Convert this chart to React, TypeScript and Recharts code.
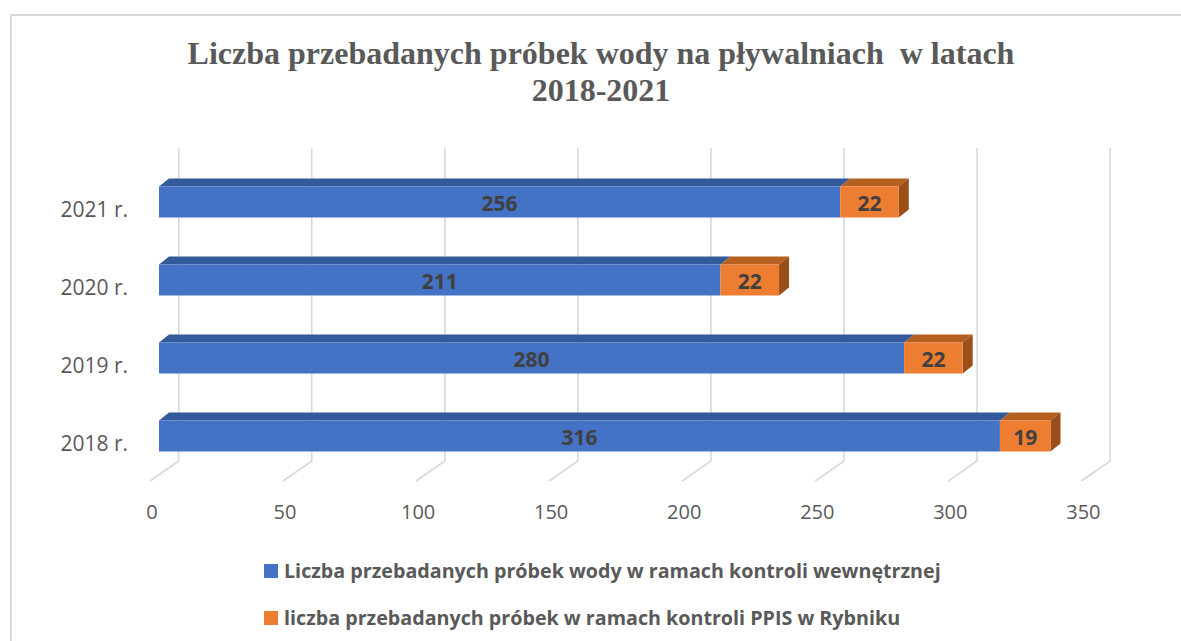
import React from 'react';
import { BarChart, Bar, XAxis, YAxis, CartesianGrid, Legend, LabelList } from 'recharts';

const categories = ['2021 r.', '2020 r.', '2019 r.', '2018 r.'];
const internalControl = [256, 211, 280, 316];
const ppisControl = [22, 22, 22, 19];
const xTicks = [0, 50, 100, 150, 200, 250, 300, 350];
const seriesNames = [
  'Liczba przebadanych próbek wody w ramach kontroli wewnętrznej',
  'liczba przebadanych próbek w ramach kontroli PPIS w Rybniku',
];
const titleLines = ['Liczba przebadanych próbek wody na pływalniach  w latach', '2018-2021'];

const data = categories.map((c, i) => ({
  year: c,
  internal: internalControl[i],
  ppis: ppisControl[i],
}));

const FRONT_DX = 9;
const DEPTH_X = 10;
const DEPTH_Y = 8;

const GRAY = '#595959';
const FONT = '"Open Sans", Lato, sans-serif';

function make3DShape(topColor: string, sideColor: string | null) {
  return (props: any) => {
    const { x, y, width, height, fill } = props;
    if (width == null || height == null) return null;
    const fx = x + FRONT_DX;
    const top = `M${fx},${y} L${fx + width},${y} L${fx + width + DEPTH_X},${y - DEPTH_Y} L${fx + DEPTH_X},${y - DEPTH_Y} Z`;
    const side = `M${fx + width},${y} L${fx + width + DEPTH_X},${y - DEPTH_Y} L${fx + width + DEPTH_X},${y + height - DEPTH_Y} L${fx + width},${y + height} Z`;
    return (
      <g>
        <path d={top} fill={topColor} />
        {sideColor ? <path d={side} fill={sideColor} /> : null}
        <rect x={fx} y={y} width={width} height={height} fill={fill} />
      </g>
    );
  };
}

const renderLabel = (props: any) => {
  const { x, y, width, height, value } = props;
  return (
    <text
      x={x + FRONT_DX + width / 2}
      y={y + height / 2 + 9}
      textAnchor="middle"
      fill="#404040"
      fontFamily={FONT}
      fontWeight="bold"
      fontSize={21}
    >
      {value}
    </text>
  );
};

const gridLine = (props: any) => {
  const { x1, y1, y2, key } = props;
  const d = `M${x1 + 28.7},${y1 - 14.5} L${x1 + 28.7},${y2 - 13.5} L${x1},${y2 + 6.5}`;
  return <path key={key} d={d} stroke="#D9D9D9" strokeWidth={1.6} fill="none" />;
};

const XTick = (props: any) => {
  const { x, y, payload } = props;
  return (
    <text x={x + 2} y={y + 44.5} textAnchor="middle" fill={GRAY} fontFamily={FONT} fontSize={20}>
      {payload.value}
    </text>
  );
};

const YTick = (props: any) => {
  const { x, y, payload } = props;
  return (
    <text x={x} y={y + 15} textAnchor="end" fill={GRAY} fontFamily={FONT} fontSize={21}>
      {payload.value}
    </text>
  );
};

const renderLegend = (props: any) => {
  const { payload } = props;
  return (
    <div>
      {(payload || []).map((entry: any, i: number) => (
        <div
          key={i}
          style={{
            display: 'flex',
            alignItems: 'center',
            height: 47,
            fontFamily: FONT,
            fontWeight: 'bold',
            fontSize: 19.7,
            color: GRAY,
            whiteSpace: 'nowrap',
          }}
        >
          <span style={{ display: 'inline-block', width: 14, height: 14, background: entry.color, marginRight: 6 }} />
          <span>{entry.value}</span>
        </div>
      ))}
    </div>
  );
};

export default function App() {
  return (
    <div style={{ position: 'absolute', left: 0, top: 0, width: 1181, height: 641, overflow: 'hidden', background: '#fff' }}>
      <div
        style={{
          position: 'absolute',
          left: 10,
          top: 14,
          width: 1250,
          height: 700,
          border: '2px solid #D9D9D9',
          boxSizing: 'border-box',
        }}
      />
      <div
        style={{
          position: 'absolute',
          left: 0,
          top: 35,
          width: 1202,
          textAlign: 'center',
          fontFamily: '"Liberation Serif", "Times New Roman", serif',
          fontWeight: 'bold',
          fontSize: 32,
          lineHeight: '37px',
          color: GRAY,
          whiteSpace: 'pre',
        }}
      >
        {titleLines.map((t, i) => (
          <div key={i}>{t}</div>
        ))}
      </div>
      <div style={{ position: 'absolute', left: 0, top: 0 }}>
        <BarChart
          width={1181}
          height={641}
          data={data}
          layout="vertical"
          margin={{ top: 162.5, right: 99.6, bottom: 136.5, left: 10 }}
          barSize={31}
        >
          <CartesianGrid horizontal={false} vertical={gridLine} />
          <XAxis
            type="number"
            domain={[0, 350]}
            ticks={xTicks}
            axisLine={false}
            tickLine={false}
            tickSize={0}
            tickMargin={0}
            height={30}
            tick={<XTick />}
            interval={0}
          />
          <YAxis
            type="category"
            dataKey="year"
            width={140}
            axisLine={false}
            tickLine={false}
            tickSize={0}
            tickMargin={22}
            tick={<YTick />}
          />
          <Legend
            content={renderLegend}
            wrapperStyle={{
              position: 'absolute',
              left: 264,
              top: 547,
              width: 800,
              height: 0,
              overflow: 'visible',
              bottom: 'auto',
              right: 'auto',
            }}
          />
          <Bar
            dataKey="internal"
            name={seriesNames[0]}
            stackId="a"
            fill="#4472C4"
            shape={make3DShape('#335A9A', null)}
            isAnimationActive={false}
          >
            <LabelList dataKey="internal" content={renderLabel} />
          </Bar>
          <Bar
            dataKey="ppis"
            name={seriesNames[1]}
            stackId="a"
            fill="#ED7D31"
            shape={make3DShape('#B5601F', '#9A4E18')}
            isAnimationActive={false}
          >
            <LabelList dataKey="ppis" content={renderLabel} />
          </Bar>
        </BarChart>
      </div>
    </div>
  );
}
